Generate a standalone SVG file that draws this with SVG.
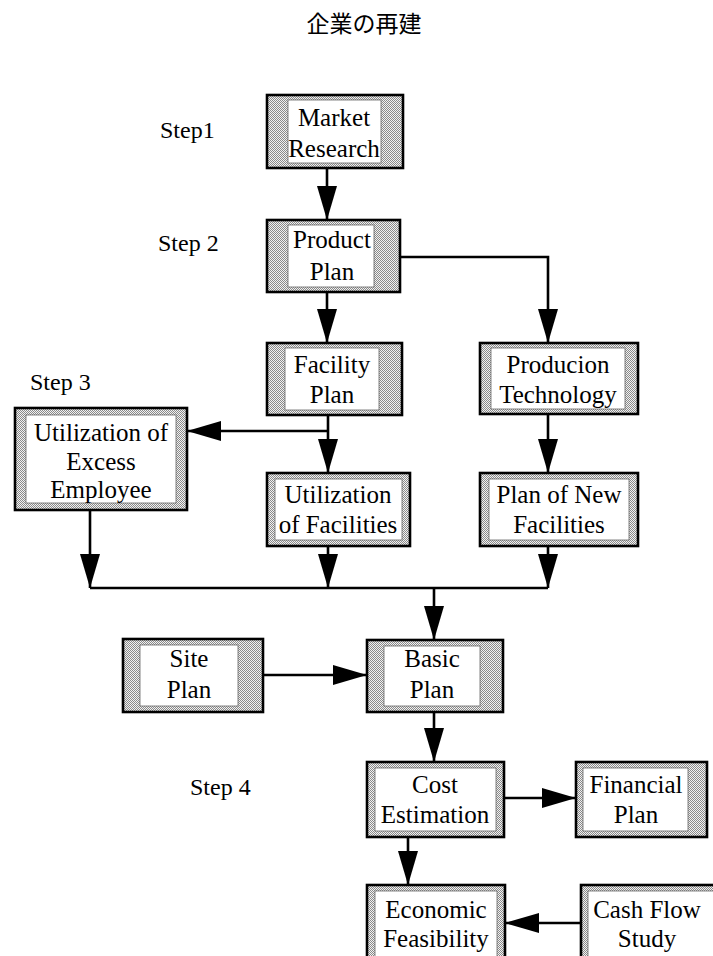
<svg xmlns="http://www.w3.org/2000/svg" width="713" height="956" viewBox="0 0 713 956">
  <style>
    .frame { fill: url(#stipple); stroke: #000; stroke-width: 2.6; }
    .inner { fill: #fff; stroke: #666; stroke-width: 0.8; }
    .lbl { font-family: "Liberation Serif", "Times New Roman", serif; font-size: 25px; fill: #000; text-anchor: middle; }
    .step { font-family: "Liberation Serif", "Times New Roman", serif; font-size: 24px; fill: #000; }
    .title { font-family: "Liberation Serif", "Noto Sans CJK JP", sans-serif; font-size: 23px; fill: #000; text-anchor: middle; }
    .wire { fill: none; stroke: #000; stroke-width: 2.6; }
    .arr { fill: none; stroke: #000; stroke-width: 2.6; marker-end: url(#head); }
  </style>
  <defs>
    <!-- dotted grey fill for the box borders -->
    <pattern id="stipple" width="2" height="2" patternUnits="userSpaceOnUse">
      <rect width="2" height="2" fill="#f2f2f2"/>
      <rect x="0" y="0" width="1" height="1" fill="#8a8a8a"/>
      <rect x="1" y="1" width="1" height="1" fill="#8a8a8a"/>
    </pattern>
    <marker id="head" markerUnits="userSpaceOnUse" markerWidth="35" markerHeight="22" refX="34" refY="10.5" orient="auto">
      <path d="M0,0.5 L34,10.5 L0,20.5 Z" fill="#000"/>
    </marker>
  </defs>

  <rect width="713" height="956" fill="#fff"/>

  <text class="title" x="364" y="32">企業の再建</text>

  <text class="step" x="160" y="138">Step1</text>
  <text class="step" x="158" y="251">Step 2</text>
  <text class="step" x="30" y="390">Step 3</text>
  <text class="step" x="190" y="795">Step 4</text>

  <g id="connectors">
    <path class="arr" d="M327,168 V220"/>
    <path class="arr" d="M327,292 V343"/>
    <path class="arr" d="M400,257 H548 V343"/>
    <path class="arr" d="M328,415 V473"/>
    <path class="arr" d="M328,431 H187"/>
    <path class="arr" d="M548,414 V473"/>
    <path class="arr" d="M90,510 V588"/>
    <path class="arr" d="M328,546 V588"/>
    <path class="arr" d="M548,546 V588"/>
    <path class="wire" d="M90,588 H548"/>
    <path class="arr" d="M434,588 V640"/>
    <path class="arr" d="M263,675 H367"/>
    <path class="arr" d="M434,712 V762"/>
    <path class="arr" d="M504,798 H576"/>
    <path class="arr" d="M408,837 V885"/>
    <path class="arr" d="M581,923 H505"/>
  </g>

  <g id="market-research">
    <rect class="frame" x="267" y="95" width="136" height="73"/>
    <rect class="inner" x="288" y="100" width="93" height="63"/>
    <text class="lbl" x="334" y="126">Market</text>
    <text class="lbl" x="334" y="157">Research</text>
  </g>

  <g id="product-plan">
    <rect class="frame" x="267" y="220" width="133" height="72"/>
    <rect class="inner" x="288" y="225" width="86" height="62"/>
    <text class="lbl" x="332" y="248">Product</text>
    <text class="lbl" x="332" y="280">Plan</text>
  </g>

  <g id="facility-plan">
    <rect class="frame" x="267" y="343" width="135" height="72"/>
    <rect class="inner" x="285" y="348" width="94" height="62"/>
    <text class="lbl" x="332" y="373">Facility</text>
    <text class="lbl" x="332" y="403">Plan</text>
  </g>

  <g id="production-technology">
    <rect class="frame" x="480" y="343" width="158" height="71"/>
    <rect class="inner" x="491" y="348" width="134" height="61"/>
    <text class="lbl" x="558" y="373">Producion</text>
    <text class="lbl" x="558" y="403">Technology</text>
  </g>

  <g id="excess-employee">
    <rect class="frame" x="15" y="408" width="172" height="102"/>
    <rect class="inner" x="26" y="415" width="150" height="88"/>
    <text class="lbl" x="101" y="441">Utilization of</text>
    <text class="lbl" x="101" y="470">Excess</text>
    <text class="lbl" x="101" y="498">Employee</text>
  </g>

  <g id="utilization-facilities">
    <rect class="frame" x="267" y="473" width="143" height="73"/>
    <rect class="inner" x="275" y="479" width="127" height="61"/>
    <text class="lbl" x="338" y="503">Utilization</text>
    <text class="lbl" x="338" y="533">of Facilities</text>
  </g>

  <g id="plan-new-facilities">
    <rect class="frame" x="480" y="473" width="158" height="73"/>
    <rect class="inner" x="489" y="479" width="140" height="61"/>
    <text class="lbl" x="559" y="503">Plan of New</text>
    <text class="lbl" x="559" y="533">Facilities</text>
  </g>

  <g id="site-plan">
    <rect class="frame" x="123" y="639" width="140" height="73"/>
    <rect class="inner" x="140" y="645" width="98" height="61"/>
    <text class="lbl" x="189" y="667">Site</text>
    <text class="lbl" x="189" y="698">Plan</text>
  </g>

  <g id="basic-plan">
    <rect class="frame" x="367" y="640" width="136" height="72"/>
    <rect class="inner" x="384" y="646" width="96" height="60"/>
    <text class="lbl" x="432" y="667">Basic</text>
    <text class="lbl" x="432" y="698">Plan</text>
  </g>

  <g id="cost-estimation">
    <rect class="frame" x="367" y="762" width="137" height="75"/>
    <rect class="inner" x="375" y="768" width="121" height="63"/>
    <text class="lbl" x="435" y="793">Cost</text>
    <text class="lbl" x="435" y="823">Estimation</text>
  </g>

  <g id="financial-plan">
    <rect class="frame" x="576" y="762" width="131" height="75"/>
    <rect class="inner" x="583" y="768" width="105" height="63"/>
    <text class="lbl" x="636" y="793">Financial</text>
    <text class="lbl" x="636" y="823">Plan</text>
  </g>

  <g id="economic-feasibility">
    <rect class="frame" x="367" y="885" width="138" height="80"/>
    <rect class="inner" x="375" y="891" width="122" height="70"/>
    <text class="lbl" x="436" y="918">Economic</text>
    <text class="lbl" x="436" y="947">Feasibility</text>
  </g>

  <g id="cash-flow-study">
    <rect class="frame" x="581" y="885" width="140" height="80"/>
    <rect class="inner" x="588" y="891" width="130" height="70"/>
    <text class="lbl" x="647" y="918">Cash Flow</text>
    <text class="lbl" x="647" y="947">Study</text>
  </g>
</svg>
